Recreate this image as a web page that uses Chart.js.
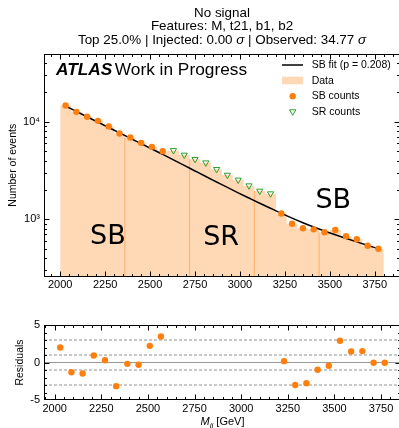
<!DOCTYPE html>
<html>
<head>
<meta charset="utf-8">
<script src="https://cdn.jsdelivr.net/npm/chart.js@4.4.1/dist/chart.umd.min.js"></script>
<style>
  html, body { margin: 0; padding: 0; background: #fff; overflow: hidden; }
  #wrap { position: relative; width: 399px; height: 428px; overflow: hidden; }
  #main { position: absolute; left: 0; top: 0; }
  #resid { position: absolute; left: 0; top: 300px; }
</style>
</head>
<body>
<div id="wrap">
  <canvas id="main" width="405" height="300"></canvas>
  <canvas id="resid" width="405" height="128"></canvas>
</div>
<script>
// bins of M_jj (GeV), 60 GeV wide
const binCenters = [2030, 2090, 2150, 2210, 2270, 2330, 2390, 2450, 2510, 2570,
  2630, 2690, 2750, 2810, 2870, 2930, 2990, 3050, 3110, 3170,
  3230, 3290, 3350, 3410, 3470, 3530, 3590, 3650, 3710, 3770];
const binRegion = ['SB', 'SB', 'SB', 'SB', 'SB', 'SB', 'SB', 'SB', 'SB', 'SB',
  'SR', 'SR', 'SR', 'SR', 'SR', 'SR', 'SR', 'SR', 'SR', 'SR',
  'SB', 'SB', 'SB', 'SB', 'SB', 'SB', 'SB', 'SB', 'SB', 'SB'];
const binCounts = [14650, 12620, 11250, 10200, 8950, 7580, 6880, 6070, 5520, 4970,
  5080, 4560, 4120, 3800, 3250, 2840, 2530, 2210, 1950, 1830,
  1145, 900, 810, 788, 735, 775, 671, 623, 535, 499];
const fitCounts = [14450, 12740, 11220, 9890, 8710, 7670, 6760, 5960, 5250, 4620,
  4064, 3565, 3126, 2742, 2410, 2118, 1866, 1650, 1460, 1295,
  1150, 1026, 920, 832, 757, 693, 637, 586, 540, 498];
const residuals = [2.0, -1.3, -1.47, 0.93, 0.31, -3.15, -0.18, -0.31, 2.22, 3.47,
  null, null, null, null, null, null, null, null, null, null,
  0.18, -3.0, -2.75, -0.97, -0.44, 2.9, 1.47, 1.52, -0.04, -0.04];
const halfBin = 30;
const dividerEdges = [2360, 2720, 3080, 3440];
const residualGuides = [-3, -1, 1, 3];

const xMajor = [2000, 2250, 2500, 2750, 3000, 3250, 3500, 3750];
const yLogMajor = [1000, 10000];
const residMajor = [-5, 0, 5];

const SANS = '"Liberation Sans", Arial, Helvetica, sans-serif';
const ORANGE = '#ff7f0e';
const GREEN = '#2ca02c';
const PEACH = 'rgba(255,127,14,0.3)';

const topMin = 259, topMax = 49400;

function range(a, b, step) { const r = []; for (let v = a; v <= b + 1e-9; v += step) r.push(v); return r; }

// histogram outline as step points on bin edges
const histPoints = binCenters.map((c, i) => ({ x: c - halfBin, y: binCounts[i] }));
histPoints.push({ x: binCenters[binCenters.length - 1] + halfBin, y: binCounts[binCounts.length - 1] });

const dividerSets = dividerEdges.map((e) => {
  const idx = binCenters.findIndex((c) => c - halfBin === e);
  return {
    type: 'line', data: [{ x: e, y: topMin }, { x: e, y: binCounts[idx] }],
    borderColor: 'rgba(255,127,14,0.45)', borderWidth: 1, pointRadius: 0, fill: false, order: 4
  };
});

const sbPoints = binCenters.map((c, i) => ({ x: c, y: binCounts[i] })).filter((_, i) => binRegion[i] === 'SB');
const srPoints = binCenters.map((c, i) => ({ x: c, y: binCounts[i] })).filter((_, i) => binRegion[i] === 'SR');
const fitPoints = binCenters.map((c, i) => ({ x: c, y: fitCounts[i] }));
const residPoints = binCenters.map((c, i) => ({ x: c, y: residuals[i] })).filter((p) => p.y !== null);

// frame + inward ticks on all four sides
const frameTicks = {
  id: 'frameTicks',
  afterDatasetsDraw(chart, args, o) {
    const { ctx, chartArea: a } = chart;
    const sx = chart.scales.x, sy = chart.scales.y;
    ctx.save();
    ctx.strokeStyle = '#000';
    ctx.lineWidth = 1;
    const L = Math.round(a.left) + 0.5, R = Math.round(a.right) - 0.5;
    const T = Math.round(a.top) + 0.5, B = Math.round(a.bottom) - 0.5;
    ctx.strokeRect(L, T, R - L, B - T);
    const seg = (x1, y1, x2, y2) => { ctx.beginPath(); ctx.moveTo(x1, y1); ctx.lineTo(x2, y2); ctx.stroke(); };
    const xt = (vals, len) => vals.forEach((v) => {
      const p = Math.round(sx.getPixelForValue(v)) + 0.5;
      if (p < L || p > R) return;
      seg(p, B, p, B - len); seg(p, T, p, T + len);
    });
    const yt = (vals, len) => vals.forEach((v) => {
      const p = Math.round(sy.getPixelForValue(v)) + 0.5;
      if (p < T || p > B) return;
      seg(L, p, L + len, p); seg(R, p, R - len, p);
    });
    xt(o.xMinor, 2.5); xt(o.xMajor, 5);
    yt(o.yMinor, 2.5); yt(o.yMajor, 5);
    ctx.restore();
  }
};

function drawRuns(ctx, runs, cx, y) {
  let total = 0;
  runs.forEach((r) => { ctx.font = r.font; r.w = ctx.measureText(r.text).width; total += r.w; });
  let x = cx - total / 2;
  ctx.textAlign = 'left';
  runs.forEach((r) => { ctx.font = r.font; ctx.fillText(r.text, x, y + (r.dy || 0)); x += r.w; });
}

const topText = {
  id: 'topText',
  afterDraw(chart) {
    const { ctx, chartArea: a } = chart;
    const sx = chart.scales.x, sy = chart.scales.y;
    const cx = (a.left + a.right) / 2;
    ctx.save();
    ctx.fillStyle = '#000';
    ctx.textBaseline = 'middle';
    const n = '13.4px ' + SANS, it = 'italic 13.4px ' + SANS;
    drawRuns(ctx, [{ text: 'No signal', font: n }], cx, 13);
    drawRuns(ctx, [{ text: 'Features: M, t21, b1, b2', font: n }], cx, 26.7);
    drawRuns(ctx, [
      { text: 'Top 25.0% | Injected: 0.00 ', font: n }, { text: 'σ', font: it },
      { text: ' | Observed: 34.77 ', font: n }, { text: 'σ', font: it }
    ], cx, 40.5);

    // ATLAS label
    ctx.textBaseline = 'alphabetic';
    ctx.textAlign = 'left';
    ctx.font = 'italic bold 17.3px ' + SANS;
    ctx.fillText('ATLAS', 56, 74.5);
    const w = ctx.measureText('ATLAS').width;
    ctx.font = '17.3px ' + SANS;
    ctx.fillText('Work in Progress', 56 + w + 2.5, 74.5);

    // region labels
    ctx.font = '27px "DejaVu Sans", sans-serif';
    ctx.textAlign = 'center';
    ctx.textBaseline = 'middle';
    ctx.fillText('SB', sx.getPixelForValue(2265), sy.getPixelForValue(660));
    ctx.fillText('SR', sx.getPixelForValue(2895), sy.getPixelForValue(650));
    ctx.fillText('SB', sx.getPixelForValue(3519), sy.getPixelForValue(1550));

    // legend
    const rows = [65, 80.7, 96.3, 112];
    const sxL = 282, exL = 303, mx = 292.7, tx = 311.7;
    ctx.strokeStyle = '#000'; ctx.lineWidth = 1.5;
    ctx.beginPath(); ctx.moveTo(sxL, rows[0]); ctx.lineTo(exL, rows[0]); ctx.stroke();
    ctx.fillStyle = PEACH; ctx.fillRect(sxL, rows[1] - 4, exL - sxL, 7.5);
    ctx.fillStyle = ORANGE; ctx.beginPath(); ctx.arc(mx, rows[2], 3.2, 0, Math.PI * 2); ctx.fill();
    ctx.strokeStyle = GREEN; ctx.lineWidth = 1;
    ctx.beginPath();
    ctx.moveTo(mx - 3.2, rows[3] - 2.2); ctx.lineTo(mx + 3.2, rows[3] - 2.2); ctx.lineTo(mx, rows[3] + 3.3); ctx.closePath();
    ctx.stroke();
    ctx.fillStyle = '#000';
    ctx.font = '10.5px ' + SANS;
    ctx.textAlign = 'left';
    ['SB fit (p = 0.208)', 'Data', 'SB counts', 'SR counts'].forEach((t, i) => ctx.fillText(t, tx, rows[i]));
    ctx.restore();
  }
};

const bottomText = {
  id: 'bottomText',
  afterDraw(chart) {
    const { ctx, chartArea: a } = chart;
    ctx.save();
    ctx.fillStyle = '#000';
    ctx.textBaseline = 'alphabetic';
    drawRuns(ctx, [
      { text: 'M', font: 'italic 11px ' + SANS },
      { text: 'jj', font: 'italic 8px ' + SANS, dy: 2.5 },
      { text: ' [GeV]', font: '11px ' + SANS }
    ], (a.left + a.right) / 2, 125);
    ctx.restore();
  }
};

const tickFont = { family: SANS, size: 11 };
const noGrid = { display: false, drawTicks: false, tickLength: 0 };

new Chart(document.getElementById('main'), {
  type: 'line',
  data: {
    datasets: [
      { data: histPoints, stepped: 'before', fill: 'start', backgroundColor: PEACH, borderWidth: 0, pointRadius: 0, order: 5 },
      ...dividerSets,
      { data: fitPoints, borderColor: '#000', borderWidth: 1.5, pointRadius: 0, fill: false, cubicInterpolationMode: 'monotone', order: 3 },
      { data: sbPoints, showLine: false, pointStyle: 'circle', pointRadius: 3.2, pointBackgroundColor: ORANGE, pointBorderWidth: 0, order: 2 },
      { data: srPoints, showLine: false, pointStyle: 'triangle', rotation: 180, pointRadius: 3.6, pointBackgroundColor: 'rgba(255,255,255,0)', pointBorderColor: GREEN, pointBorderWidth: 1, order: 1 }
    ]
  },
  options: {
    responsive: false, animation: false, devicePixelRatio: 1,
    layout: { padding: { top: 54, right: 3, left: 0, bottom: 0 } },
    plugins: {
      legend: { display: false }, tooltip: { enabled: false }, title: { display: false },
      frameTicks: { xMajor, xMinor: range(1950, 3850, 50), yMajor: yLogMajor,
        yMinor: [300, 400, 500, 600, 700, 800, 900, 2000, 3000, 4000, 5000, 6000, 7000, 8000, 9000, 20000, 30000, 40000] }
    },
    scales: {
      x: {
        type: 'linear', min: 1910, max: 3890,
        grid: noGrid, border: { display: false },
        ticks: { font: tickFont, color: '#000', padding: 2, maxRotation: 0, callback: (v) => String(v) },
        afterBuildTicks: (s) => { s.ticks = xMajor.map((v) => ({ value: v })); },
        afterFit: (s) => { s.height = 23.5; }
      },
      y: {
        type: 'logarithmic', min: topMin, max: topMax,
        grid: noGrid, border: { display: false },
        ticks: { font: tickFont, color: '#000', padding: 4, callback: (v) => (v === 1000 ? '10³' : v === 10000 ? '10⁴' : '') },
        afterBuildTicks: (s) => { s.ticks = yLogMajor.map((v) => ({ value: v })); },
        afterFit: (s) => { s.width = 44; },
        title: { display: true, text: 'Number of events', color: '#000', font: { family: SANS, size: 10.5 }, padding: { top: 7, bottom: 0 } }
      }
    }
  },
  plugins: [frameTicks, topText]
});

const guideSets = residualGuides.map((g) => ({
  data: [{ x: 1943, y: g }, { x: 3857, y: g }], borderColor: '#777', borderWidth: 0.8, borderDash: [3, 2], pointRadius: 0, fill: false, order: 3
}));

new Chart(document.getElementById('resid'), {
  type: 'line',
  data: {
    datasets: [
      ...guideSets,
      { data: [{ x: 1943, y: 0 }, { x: 3857, y: 0 }], borderColor: '#999', borderWidth: 1, pointRadius: 0, fill: false, order: 2 },
      { data: residPoints, showLine: false, pointStyle: 'circle', pointRadius: 3.2, pointBackgroundColor: ORANGE, pointBorderWidth: 0, order: 1 }
    ]
  },
  options: {
    responsive: false, animation: false, devicePixelRatio: 1,
    layout: { padding: { top: 25, right: 3, left: 0, bottom: 0 } },
    plugins: {
      legend: { display: false }, tooltip: { enabled: false },
      frameTicks: { xMajor, xMinor: range(1950, 3850, 50), yMajor: residMajor, yMinor: range(-4, 4, 1) }
    },
    scales: {
      x: {
        type: 'linear', min: 1943, max: 3857,
        grid: noGrid, border: { display: false },
        ticks: { font: tickFont, color: '#000', padding: 2, maxRotation: 0, callback: (v) => String(v) },
        afterBuildTicks: (s) => { s.ticks = xMajor.map((v) => ({ value: v })); },
        afterFit: (s) => { s.height = 28; }
      },
      y: {
        type: 'linear', min: -5, max: 5,
        grid: noGrid, border: { display: false },
        ticks: { font: tickFont, color: '#000', padding: 4, callback: (v) => String(v) },
        afterBuildTicks: (s) => { s.ticks = residMajor.map((v) => ({ value: v })); },
        afterFit: (s) => { s.width = 44; },
        title: { display: true, text: 'Residuals', color: '#000', font: { family: SANS, size: 10.5 }, padding: { top: 14, bottom: 0 } }
      }
    }
  },
  plugins: [frameTicks, bottomText]
});
</script>
</body>
</html>
